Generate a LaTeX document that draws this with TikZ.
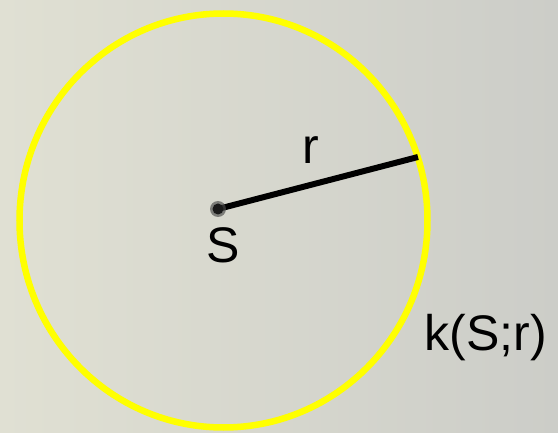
\documentclass[tikz,border=0pt]{standalone}
\usepackage{fontspec}
\setmainfont{Liberation Sans}
\definecolor{bgleft}{HTML}{E0E0D3}
\definecolor{bgright}{HTML}{CCCDC8}
\definecolor{circyellow}{HTML}{FFFF00}
\definecolor{dotcore}{HTML}{1A1A1A}
\begin{document}
\begin{tikzpicture}[x=1pt,y=-1pt,
  lbl/.style={font=\fontsize{50}{58}\selectfont, text=black, inner sep=0pt},
  circ/.style={draw=circyellow, line width=6.5pt},
  radline/.style={draw=black, line width=6pt}]
\useasboundingbox (0,0) rectangle (558,433);
\shade[left color=bgleft, right color=bgright] (0,0) rectangle (558,433);
\coordinate (C) at (223.5,220.5);
\coordinate (S) at (218,209);
\coordinate (P) at (418,157);
\draw[circ] (C) ellipse[x radius=204, y radius=207];
\draw[radline] (S) -- (P);
\fill[black!70, opacity=0.65] (S) circle[radius=8];
\fill[dotcore] (S) circle[radius=5.5];
\node[lbl] (lS) at (223,245) {S};
\node[lbl] (lr) at (311,150) {r};
\node[lbl] (lk) at (486,338) {k(S;r)};
\end{tikzpicture}
\end{document}
